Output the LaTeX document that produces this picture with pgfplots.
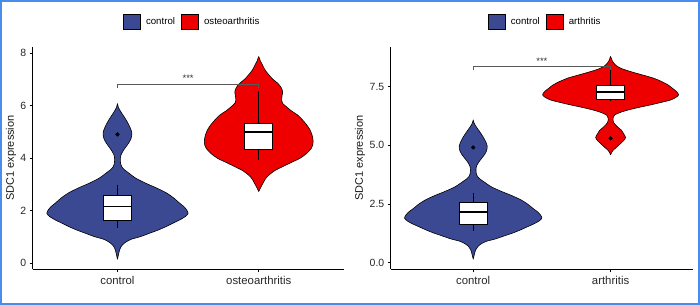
\documentclass[border=0pt]{standalone}
\usepackage{fontspec}
\setmainfont{Liberation Sans}
\usepackage{pgfplots}
\pgfplotsset{compat=1.18}
\usepackage{pgfplotstable}
\usepgfplotslibrary{statistics}
\definecolor{aaasblue}{HTML}{3B4992}
\definecolor{aaasred}{HTML}{EE0000}
\definecolor{frameblue}{HTML}{4A8CEB}

% violin outlines: expression value y, signed half-width w (x units),
% right side going up, then left side coming down
\pgfplotstableread{
y w
0.15 0
0.35 0.008
0.55 0.018
0.70 0.035
0.82 0.063
0.92 0.10
1.01 0.16
1.15 0.23
1.27 0.29
1.40 0.345
1.52 0.39
1.65 0.44
1.78 0.48
1.90 0.50
2.03 0.49
2.16 0.47
2.29 0.44
2.48 0.40
2.67 0.35
2.86 0.28
3.05 0.20
3.24 0.13
3.43 0.082
3.56 0.050
3.68 0.030
3.80 0.022
3.93 0.020
4.03 0.021
4.13 0.025
4.30 0.042
4.45 0.062
4.57 0.078
4.75 0.096
4.95 0.102
5.14 0.092
5.33 0.075
5.47 0.060
5.59 0.046
5.72 0.030
5.85 0.015
5.95 0.006
6.07 0
5.95 -0.006
5.85 -0.015
5.72 -0.030
5.59 -0.046
5.47 -0.060
5.33 -0.075
5.14 -0.092
4.95 -0.102
4.75 -0.096
4.57 -0.078
4.45 -0.062
4.30 -0.042
4.13 -0.025
4.03 -0.021
3.93 -0.020
3.80 -0.022
3.68 -0.030
3.56 -0.050
3.43 -0.082
3.24 -0.13
3.05 -0.20
2.86 -0.28
2.67 -0.35
2.48 -0.40
2.29 -0.44
2.16 -0.47
2.03 -0.49
1.90 -0.50
1.78 -0.48
1.65 -0.44
1.52 -0.39
1.40 -0.345
1.27 -0.29
1.15 -0.23
1.01 -0.16
0.92 -0.10
0.82 -0.063
0.70 -0.035
0.55 -0.018
0.35 -0.008
0.15 0
}\ctrl

\pgfplotstableread{
y w
2.73 0
2.90 0.015
3.05 0.03
3.17 0.042
3.30 0.060
3.43 0.088
3.55 0.12
3.68 0.169
3.84 0.23
4.00 0.292
4.19 0.340
4.38 0.372
4.50 0.382
4.63 0.385
4.76 0.383
4.89 0.377
5.08 0.363
5.27 0.340
5.46 0.31
5.65 0.275
5.81 0.23
5.97 0.194
6.10 0.168
6.22 0.162
6.38 0.165
6.54 0.169
6.70 0.158
6.86 0.134
7.01 0.10
7.17 0.073
7.36 0.045
7.55 0.027
7.70 0.012
7.87 0
7.70 -0.012
7.55 -0.027
7.36 -0.045
7.17 -0.073
7.01 -0.10
6.86 -0.134
6.70 -0.158
6.54 -0.169
6.38 -0.165
6.22 -0.162
6.10 -0.168
5.97 -0.194
5.81 -0.23
5.65 -0.275
5.46 -0.31
5.27 -0.340
5.08 -0.363
4.89 -0.377
4.76 -0.383
4.63 -0.385
4.50 -0.382
4.38 -0.372
4.19 -0.340
4.00 -0.292
3.84 -0.23
3.68 -0.169
3.55 -0.12
3.43 -0.088
3.30 -0.060
3.17 -0.042
3.05 -0.03
2.90 -0.015
2.73 0
}\osteo

\pgfplotstableread{
y w
4.59 0
4.70 0.008
4.80 0.020
4.90 0.040
5.01 0.060
5.17 0.090
5.33 0.109
5.49 0.095
5.65 0.078
5.76 0.055
5.87 0.036
5.97 0.022
6.08 0.017
6.18 0.019
6.29 0.029
6.40 0.070
6.51 0.131
6.62 0.21
6.72 0.29
6.83 0.37
6.93 0.437
7.04 0.475
7.15 0.495
7.29 0.48
7.43 0.45
7.57 0.419
7.72 0.37
7.86 0.313
8.00 0.23
8.14 0.146
8.28 0.075
8.42 0.036
8.60 0.012
8.78 0
8.60 -0.012
8.42 -0.036
8.28 -0.075
8.14 -0.146
8.00 -0.23
7.86 -0.313
7.72 -0.37
7.57 -0.419
7.43 -0.45
7.29 -0.48
7.15 -0.495
7.04 -0.475
6.93 -0.437
6.83 -0.37
6.72 -0.29
6.62 -0.21
6.51 -0.131
6.40 -0.070
6.29 -0.029
6.18 -0.019
6.08 -0.017
5.97 -0.022
5.87 -0.036
5.76 -0.055
5.65 -0.078
5.49 -0.095
5.33 -0.109
5.17 -0.090
5.01 -0.060
4.90 -0.040
4.80 -0.020
4.70 -0.008
4.59 0
}\arth

\pgfplotsset{
  vstyle/.style={
    scale only axis,
    axis lines=left,
    axis line style={-, line width=0.8bp, black},
    tick align=outside,
    major tick length=3bp,
    tick style={black, line width=0.8bp},
    xmin=0.4, xmax=2.6, xtick={1,2},
    /pgf/number format/assume math mode=true,
    yticklabel style={font=\fontsize{10.5}{12}\selectfont, text=black!85},
    xticklabel style={font=\fontsize{11.4}{13}\selectfont, text=black!85},
    ylabel style={font=\fontsize{11}{13}\selectfont, anchor=center, text=black!90},
    legend columns=-1,
    legend style={draw=none, fill=none, anchor=center,
      font=\fontsize{9.7}{11}\selectfont,
      nodes={inner sep=0pt},
      /tikz/every odd column/.append style={column sep=5.7bp},
      /tikz/every even column/.append style={column sep=6bp}},
    legend image code/.code={\draw[#1, draw=black, line width=0.6bp] (0bp,-7.6bp) rectangle (16.7bp,7.6bp);},
    boxplot/draw direction=y,
    boxplot/whisker extend=0,
    boxplot/box extend=0.2,
  },
  bx/.style={draw=black, fill=white, line width=0.8bp, solid, mark=none,
    boxplot/every median/.style={line width=1.8bp}},
  vio/.style={draw=black, line width=0.6bp, smooth, tension=0.5, mark=none, forget plot},
}

\begin{document}
\begin{tikzpicture}

% ---------------- left panel ----------------
\begin{axis}[vstyle,
  at={(32.7bp,35.7bp)}, anchor=south west,
  width=310.8bp, height=222.6bp,
  ymin=-0.229, ymax=8.25,
  ytick={0,2,4,6,8},
  xticklabels={control,osteoarthritis},
  ylabel={SDC1 expression},
  ylabel style={at={(axis description cs:-0.0698,0.5)}},
  legend style={at={(axis description cs:0.51,1.1123)}},
]
\addlegendimage{fill=aaasblue}
\addlegendentry{control}
\addlegendimage{fill=aaasred}
\addlegendentry{osteoarthritis}

\addplot[vio, fill=aaasblue] table[x expr=1+\thisrow{w}, y=y]{\ctrl};
\addplot[vio, fill=aaasred] table[x expr=2+\thisrow{w}, y=y]{\osteo};

\addplot[bx, forget plot, boxplot prepared={lower whisker=1.33, lower quartile=1.65, median=2.16, upper quartile=2.58, upper whisker=2.98, draw position=1}] coordinates {};
\addplot[bx, forget plot, boxplot prepared={lower whisker=3.94, lower quartile=4.32, median=5.01, upper quartile=5.33, upper whisker=6.57, draw position=2}] coordinates {};
\addplot[only marks, mark=*, mark size=1.9bp, black, forget plot] coordinates {(1,4.91)};

\addplot[black!65, line width=0.5bp, forget plot] coordinates {(1,6.68) (1,6.83) (2,6.83) (2,6.68)};
\node[anchor=base, font=\fontsize{9.5}{10}\selectfont, text=black!80] at (axis cs:1.5,6.93) {***};
\end{axis}

% ---------------- right panel ----------------
\begin{axis}[vstyle,
  at={(390.8bp,35.7bp)}, anchor=south west,
  width=302.2bp, height=222.6bp,
  ymin=-0.28, ymax=9.20,
  ytick={0,2.5,5,7.5},
  yticklabel style={/pgf/number format/.cd, fixed, fixed zerofill, precision=1},
  xticklabels={control,arthritis},
  ylabel={SDC1 expression},
  ylabel style={at={(axis description cs:-0.102,0.5)}},
  legend style={at={(axis description cs:0.5076,1.1123)}},
]
\addlegendimage{fill=aaasblue}
\addlegendentry{control}
\addlegendimage{fill=aaasred}
\addlegendentry{arthritis}

\addplot[vio, fill=aaasblue] table[x expr=1+\thisrow{w}, y=y]{\ctrl};
\addplot[vio, fill=aaasred] table[x expr=2+\thisrow{w}, y=y]{\arth};

\addplot[bx, forget plot, boxplot prepared={lower whisker=1.33, lower quartile=1.65, median=2.16, upper quartile=2.58, upper whisker=2.98, draw position=1}] coordinates {};
\addplot[bx, forget plot, boxplot prepared={lower whisker=6.88, lower quartile=6.97, median=7.26, upper quartile=7.57, upper whisker=8.30, draw position=2}] coordinates {};
\addplot[only marks, mark=*, mark size=1.9bp, black, forget plot] coordinates {(1,4.91) (2,5.30)};

\addplot[black!65, line width=0.5bp, forget plot] coordinates {(1,8.20) (1,8.38) (2,8.38) (2,8.20)};
\node[anchor=base, font=\fontsize{9.5}{10}\selectfont, text=black!80] at (axis cs:1.5,8.44) {***};
\end{axis}

\draw[frameblue, line width=2bp] (1bp,1bp) rectangle (699bp,304bp);
\end{tikzpicture}
\end{document}
